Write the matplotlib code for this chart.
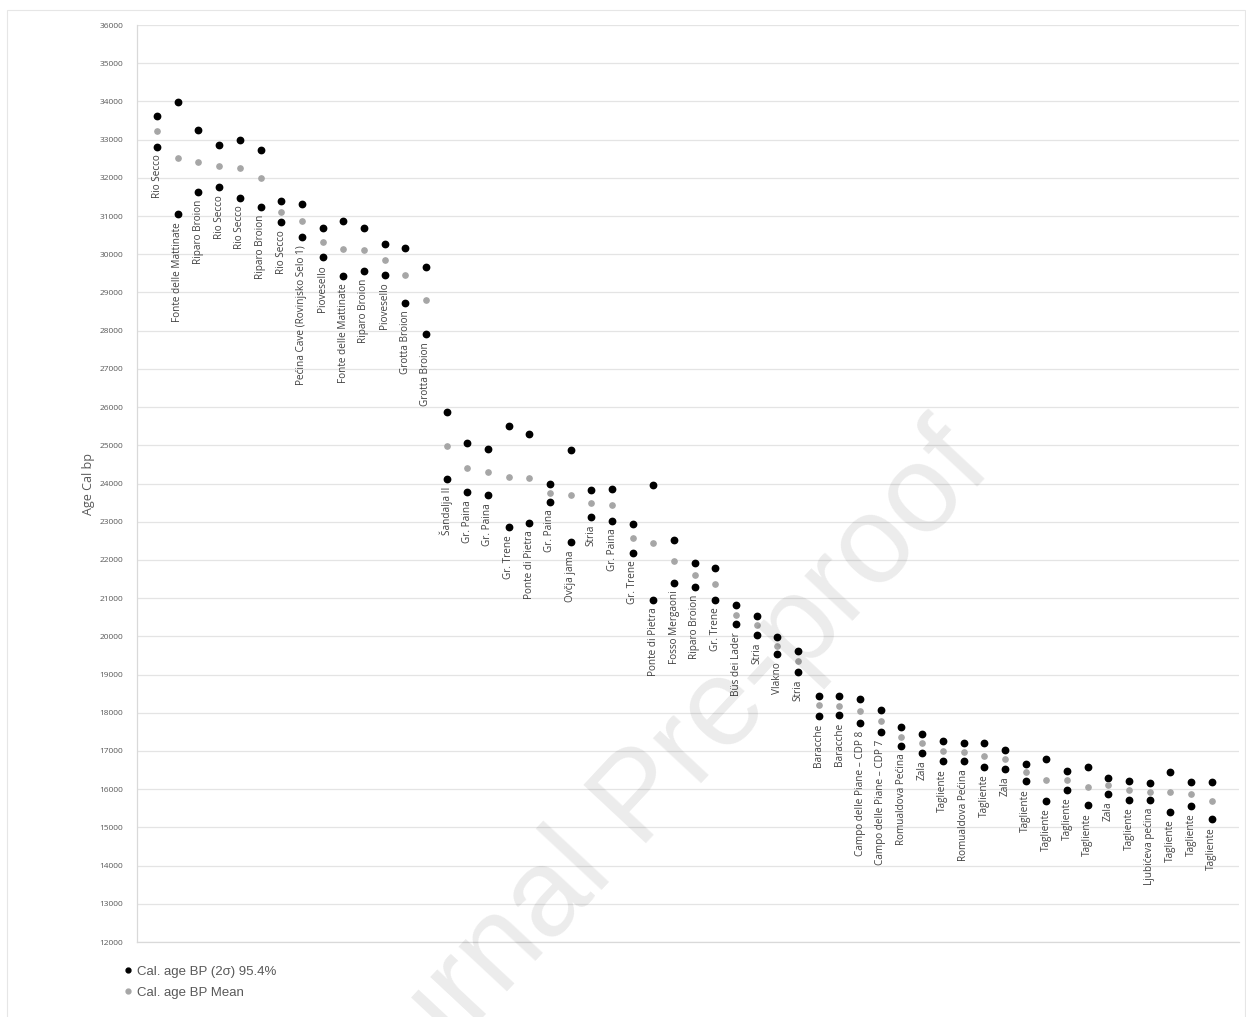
import matplotlib.pyplot as plt
from matplotlib.lines import Line2D
from matplotlib.patches import Rectangle

sites = [
    'Rio Secco', 'Fonte delle Mattinate', 'Riparo Broion', 'Rio Secco', 'Rio Secco',
    'Riparo Broion', 'Rio Secco', 'Pećina Cave (Rovinjsko Selo 1)', 'Piovesello',
    'Fonte delle Mattinate', 'Riparo Broion', 'Piovesello', 'Grotta Broion',
    'Grotta Broion', 'Šandalja II', 'Gr. Paina', 'Gr. Paina', 'Gr. Trene',
    'Ponte di Pietra', 'Gr. Paina', 'Ovčja jama', 'Stria', 'Gr. Paina', 'Gr. Trene',
    'Ponte di Pietra', 'Fosso Mergaoni', 'Riparo Broion', 'Gr. Trene', 'Büs dei Lader',
    'Stria', 'Vlakno', 'Stria', 'Baracche', 'Baracche', 'Campo delle Piane – CDP 8',
    'Campo delle Piane – CDP 7', 'Romualdova Pećina', 'Zala', 'Tagliente',
    'Romualdova Pećina', 'Tagliente', 'Zala', 'Tagliente', 'Tagliente', 'Tagliente',
    'Tagliente', 'Zala', 'Tagliente', 'Ljubićeva pećina', 'Tagliente', 'Tagliente',
    'Tagliente',
]

# 2 sigma range, upper and lower bound (cal BP)
upper = [
    33630, 33980, 33240, 32860, 33000, 32720, 31400, 31310, 30700, 30870,
    30680, 30270, 30170, 29670, 25860, 25060, 24900, 25500, 25300, 23980,
    24880, 23820, 23850, 22940, 23970, 22520, 21920, 21780, 20820, 20540,
    19990, 19630, 18450, 18430, 18360, 18080, 17620, 17450, 17250, 17210,
    17200, 17020, 16660, 16790, 16470, 16580, 16290, 16220, 16170, 16450,
    16180, 16180,
]
mean = [
    33230, 32510, 32420, 32310, 32250, 31990, 31110, 30870, 30320, 30140,
    30100, 29850, 29460, 28800, 24990, 24410, 24300, 24180, 24140, 23760,
    23690, 23480, 23440, 22580, 22450, 21960, 21610, 21370, 20560, 20290,
    19760, 19350, 18200, 18180, 18040, 17790, 17360, 17210, 16990, 16970,
    16880, 16780, 16450, 16240, 16230, 16070, 16100, 15970, 15930, 15920,
    15880, 15700,
]
lower = [
    32820, 31050, 31620, 31750, 31480, 31240, 30840, 30440, 29920, 29430,
    29560, 29470, 28730, 27910, 24120, 23770, 23690, 22850, 22970, 23520,
    22460, 23130, 23020, 22190, 20950, 21400, 21300, 20950, 20320, 20030,
    19530, 19060, 17920, 17940, 17740, 17490, 17130, 16960, 16730, 16730,
    16580, 16530, 16210, 15690, 15980, 15580, 15870, 15720, 15710, 15410,
    15560, 15210,
]

y_ticks = list(range(12000, 36001, 1000))

grey_txt = '#595959'
plt.rcParams['font.family'] = ['Open Sans', 'DejaVu Sans']

fig = plt.figure(figsize=(12.46, 10.17), dpi=100)
ax = fig.add_axes([0.11, 0.0737, 0.884, 0.9017])

x = list(range(len(sites)))
ax.plot(x, upper, 'o', color='black', markersize=4.6, zorder=3)
ax.plot(x, lower, 'o', color='black', markersize=4.6, zorder=3)
ax.plot(x, mean, 'o', color='#a6a6a6', markersize=3.8, zorder=3)

for i, name in enumerate(sites):
    ax.annotate(name, (i, lower[i]), xytext=(0, -5.5), textcoords='offset points',
                rotation=90, ha='center', va='top', fontsize=7.2, color='#404040')

ax.set_ylim(12000, 36000)
ax.set_xlim(-0.97, 52.3)
ax.set_yticks(y_ticks)
ax.set_yticklabels([str(v) for v in y_ticks], fontsize=6, color=grey_txt)
ax.set_xticks([])
ax.tick_params(axis='y', length=0, pad=10)
ax.grid(axis='y', color='#e4e4e4', linewidth=0.9)
ax.set_axisbelow(True)
for side in ['top', 'right']:
    ax.spines[side].set_visible(False)
for side in ['left', 'bottom']:
    ax.spines[side].set_color('#d9d9d9')
    ax.spines[side].set_linewidth(0.9)
ax.set_ylabel('Age Cal bp', fontsize=9, color=grey_txt, labelpad=3)

# legend below the plot
handles = [
    Line2D([], [], marker='o', linestyle='', color='black', markersize=3.5),
    Line2D([], [], marker='o', linestyle='', color='#a6a6a6', markersize=3.5),
]
fig.legend(handles, ['Cal. age BP (2σ) 95.4%', 'Cal. age BP Mean'],
           loc='upper left', bbox_to_anchor=(0.088, 0.062), frameon=False,
           prop={'family': 'Liberation Sans', 'size': 9.5}, labelcolor=grey_txt,
           handletextpad=0.2, handlelength=1.0, labelspacing=0.65)

# chart frame
fig.patches.append(Rectangle((0.006, -0.01), 0.993, 1.0, transform=fig.transFigure,
                             fill=False, edgecolor='#e6e6e6', linewidth=0.8))

fig.text(0.515, 0.213, 'Journal Pre-proof', fontsize=90, rotation=47,
         ha='center', va='center', color='black', alpha=0.08,
         family='Liberation Sans', zorder=10)

fig.savefig('out.png', dpi=100)
